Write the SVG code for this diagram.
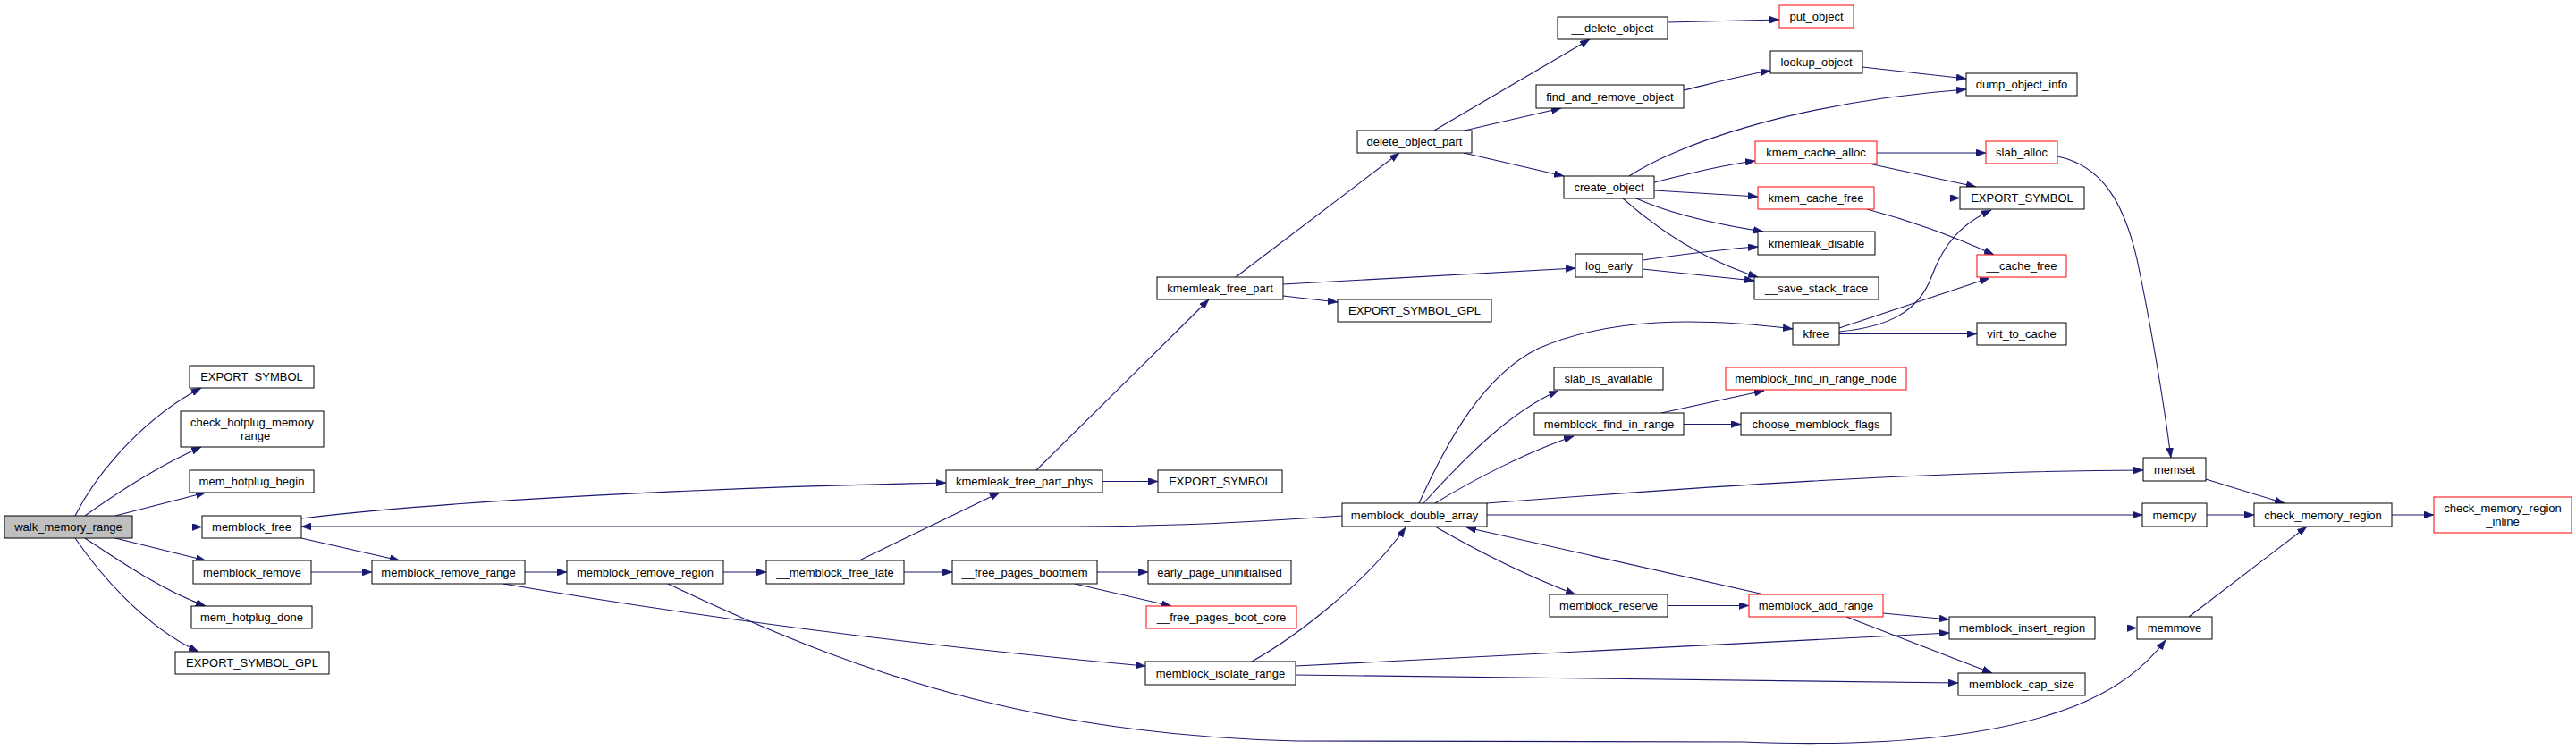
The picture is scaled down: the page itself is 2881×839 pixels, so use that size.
<svg xmlns="http://www.w3.org/2000/svg" width="2881" height="839" viewBox="0 0 2881 839">
<style>
.node rect{fill:#ffffff;stroke:#000000;stroke-width:1}
.node.red rect{stroke:#ff0000}
.node.root rect{fill:#bfbfbf}
text{font-family:"Liberation Sans",Arial,sans-serif;font-size:13px;text-anchor:middle;fill:#000000}
#edges path{fill:none;stroke:#191970;stroke-width:1.1;marker-end:url(#arr)}
</style>
<defs>
<marker id="arr" markerUnits="userSpaceOnUse" viewBox="0 0 11 8" markerWidth="11" markerHeight="8" refX="11" refY="4" orient="auto">
<path d="M0,0 L11,4 L0,8 z" fill="#191970" stroke="#191970" stroke-width="0.5"/>
</marker>
</defs>
<rect width="2881" height="839" fill="#ffffff"/>
<g id="edges">
<path d="M84,577 C110,525 165,465 225,434"/>
<path d="M95,577 C130,552 175,522 225,500"/>
<path d="M129,577 L230,551"/>
<path d="M148,589.5 L226,589.5"/>
<path d="M129,602 L230,627"/>
<path d="M95,602 C130,625 180,660 230,678"/>
<path d="M84,602 C110,640 160,700 222,729"/>
<path d="M337,580 C500,560 800,545 1058,540"/>
<path d="M337,602 L447,627"/>
<path d="M1501,577 C1420,583 1300,589 1200,589 L337,589"/>
<path d="M348,640 L416,640"/>
<path d="M587,640 L634,640"/>
<path d="M563,653 C750,685 1000,720 1281,745"/>
<path d="M809,640 L857,640"/>
<path d="M747,653 C950,750 1150,822 1450,829 L1950,830 C2100,836 2230,825 2320,790 C2370,770 2400,745 2422,716"/>
<path d="M961,627 L1118,551"/>
<path d="M1011,640 L1065,640"/>
<path d="M1227,640 L1284,640"/>
<path d="M1202,653 L1310,678"/>
<path d="M1233,538.5 L1295,538.5"/>
<path d="M1159,526 L1352,335"/>
<path d="M1382,310 L1565,171"/>
<path d="M1435,318 L1762,300"/>
<path d="M1435,331 L1496,338"/>
<path d="M1604,146 L1778,44"/>
<path d="M1638,146 L1746,121"/>
<path d="M1637,171 L1749,197"/>
<path d="M1865,25 L1990,22"/>
<path d="M1883,101 C1920,92 1950,84 1980,79"/>
<path d="M2083,75 L2199,88"/>
<path d="M1822,197 C1870,165 2000,115 2199,100"/>
<path d="M1850,204 C1890,194 1925,185 1963,180"/>
<path d="M1850,213 L1966,220"/>
<path d="M1830,222 C1870,240 1920,251 1972,259"/>
<path d="M1815,222 C1860,262 1910,292 1966,310"/>
<path d="M1837,291 C1880,285 1920,279 1966,276"/>
<path d="M1837,301 L1962,314"/>
<path d="M2099,171 L2221,171"/>
<path d="M2090,183 L2210,209"/>
<path d="M2096,221.5 L2192,221.5"/>
<path d="M2088,234 C2130,245 2180,262 2230,285"/>
<path d="M2301,175 C2350,185 2375,225 2390,290 C2405,360 2420,450 2428,512"/>
<path d="M2057,373.5 L2211,373.5"/>
<path d="M2057,367 L2225,311"/>
<path d="M2057,371 C2110,366 2145,350 2160,310 C2175,270 2195,250 2227,235"/>
<path d="M1587,563 C1620,490 1660,420 1720,390 C1800,355 1900,355 2005,368"/>
<path d="M1592,563 C1640,510 1690,460 1743,437"/>
<path d="M1605,563 C1650,535 1710,505 1760,488"/>
<path d="M1663,563 C1900,545 2150,527 2397,526"/>
<path d="M1663,576 L2396,576"/>
<path d="M1605,589 C1650,615 1710,645 1762,665"/>
<path d="M1973,665 L1640,590"/>
<path d="M1400,740 C1450,712 1530,650 1572,590"/>
<path d="M1449,745 C1700,732 1950,718 2180,708"/>
<path d="M1449,755 C1700,758 1950,762 2190,764"/>
<path d="M1858,462 L1973,437"/>
<path d="M1883,474.5 L1947,474.5"/>
<path d="M1865,677.5 L1956,677.5"/>
<path d="M2106,686 L2180,693"/>
<path d="M2065,690 L2228,753"/>
<path d="M2343,702.5 L2390,702.5"/>
<path d="M2448,690 L2580,589"/>
<path d="M2467,536 L2555,563"/>
<path d="M2468,576 L2521,576"/>
<path d="M2675,576 L2722,576"/>
</g>
<g id="n_walk" class="node root"><rect x="5" y="577" width="143" height="25"/><text x="76.5" y="594">walk_memory_range</text></g>
<g id="n_es1" class="node"><rect x="212" y="409" width="139" height="25"/><text x="281.5" y="426">EXPORT_SYMBOL</text></g>
<g id="n_chk" class="node"><rect x="202" y="460" width="160" height="40"/><text x="282" y="477">check_hotplug_memory</text><text x="282" y="492">_range</text></g>
<g id="n_mhb" class="node"><rect x="212" y="526" width="139" height="25"/><text x="281.5" y="543">mem_hotplug_begin</text></g>
<g id="n_mbf" class="node"><rect x="226" y="577" width="111" height="25"/><text x="281.5" y="594">memblock_free</text></g>
<g id="n_mbr" class="node"><rect x="216" y="627" width="132" height="26"/><text x="282" y="644.5">memblock_remove</text></g>
<g id="n_mhd" class="node"><rect x="214" y="678" width="135" height="25"/><text x="281.5" y="695">mem_hotplug_done</text></g>
<g id="n_esg1" class="node"><rect x="196" y="729" width="172" height="25"/><text x="282" y="746">EXPORT_SYMBOL_GPL</text></g>
<g id="n_mrr" class="node"><rect x="416" y="627" width="171" height="26"/><text x="501.5" y="644.5">memblock_remove_range</text></g>
<g id="n_mrg" class="node"><rect x="634" y="627" width="175" height="26"/><text x="721.5" y="644.5">memblock_remove_region</text></g>
<g id="n_mfl" class="node"><rect x="857" y="627" width="154" height="26"/><text x="934" y="644.5">__memblock_free_late</text></g>
<g id="n_fpb" class="node"><rect x="1065" y="627" width="162" height="26"/><text x="1146" y="644.5">__free_pages_bootmem</text></g>
<g id="n_epu" class="node"><rect x="1284" y="627" width="160" height="26"/><text x="1364" y="644.5">early_page_uninitialised</text></g>
<g id="n_fpbc" class="node red"><rect x="1282" y="678" width="168" height="25"/><text x="1366" y="695">__free_pages_boot_core</text></g>
<g id="n_mir" class="node"><rect x="1281" y="740" width="168" height="26"/><text x="1365" y="757.5">memblock_isolate_range</text></g>
<g id="n_kfpp" class="node"><rect x="1058" y="526" width="175" height="25"/><text x="1145.5" y="543">kmemleak_free_part_phys</text></g>
<g id="n_es2" class="node"><rect x="1295" y="526" width="139" height="25"/><text x="1364.5" y="543">EXPORT_SYMBOL</text></g>
<g id="n_kfp" class="node"><rect x="1294" y="310" width="141" height="25"/><text x="1364.5" y="327">kmemleak_free_part</text></g>
<g id="n_esg2" class="node"><rect x="1496" y="335" width="172" height="25"/><text x="1582" y="352">EXPORT_SYMBOL_GPL</text></g>
<g id="n_dop" class="node"><rect x="1518" y="146" width="128" height="25"/><text x="1582" y="163">delete_object_part</text></g>
<g id="n_ddo" class="node"><rect x="1742" y="19" width="123" height="25"/><text x="1803.5" y="36">__delete_object</text></g>
<g id="n_faro" class="node"><rect x="1718" y="95" width="165" height="26"/><text x="1800.5" y="112.5">find_and_remove_object</text></g>
<g id="n_co" class="node"><rect x="1749" y="197" width="101" height="25"/><text x="1799.5" y="214">create_object</text></g>
<g id="n_le" class="node"><rect x="1762" y="284" width="75" height="26"/><text x="1799.5" y="301.5">log_early</text></g>
<g id="n_put" class="node red"><rect x="1990" y="6" width="83" height="25"/><text x="2031.5" y="23">put_object</text></g>
<g id="n_lo" class="node"><rect x="1980" y="57" width="103" height="25"/><text x="2031.5" y="74">lookup_object</text></g>
<g id="n_doi" class="node"><rect x="2199" y="82" width="124" height="25"/><text x="2261" y="99">dump_object_info</text></g>
<g id="n_kca" class="node red"><rect x="1963" y="158" width="136" height="25"/><text x="2031" y="175">kmem_cache_alloc</text></g>
<g id="n_sa" class="node red"><rect x="2221" y="158" width="80" height="25"/><text x="2261" y="175">slab_alloc</text></g>
<g id="n_kcf" class="node red"><rect x="1966" y="209" width="130" height="25"/><text x="2031" y="226">kmem_cache_free</text></g>
<g id="n_es3" class="node"><rect x="2192" y="209" width="139" height="25"/><text x="2261.5" y="226">EXPORT_SYMBOL</text></g>
<g id="n_kd" class="node"><rect x="1966" y="259" width="131" height="26"/><text x="2031.5" y="276.5">kmemleak_disable</text></g>
<g id="n_cf" class="node red"><rect x="2211" y="285" width="100" height="25"/><text x="2261" y="302">__cache_free</text></g>
<g id="n_sst" class="node"><rect x="1962" y="310" width="139" height="25"/><text x="2031.5" y="327">__save_stack_trace</text></g>
<g id="n_kfree" class="node"><rect x="2005" y="361" width="52" height="25"/><text x="2031" y="378">kfree</text></g>
<g id="n_vtc" class="node"><rect x="2211" y="361" width="100" height="25"/><text x="2261" y="378">virt_to_cache</text></g>
<g id="n_mda" class="node"><rect x="1501" y="563" width="162" height="26"/><text x="1582" y="580.5">memblock_double_array</text></g>
<g id="n_sia" class="node"><rect x="1738" y="411" width="122" height="25"/><text x="1799" y="428">slab_is_available</text></g>
<g id="n_mfir" class="node"><rect x="1716" y="462" width="167" height="25"/><text x="1799.5" y="479">memblock_find_in_range</text></g>
<g id="n_mfirn" class="node red"><rect x="1930" y="411" width="202" height="25"/><text x="2031" y="428">memblock_find_in_range_node</text></g>
<g id="n_cmf" class="node"><rect x="1947" y="462" width="168" height="25"/><text x="2031" y="479">choose_memblock_flags</text></g>
<g id="n_mres" class="node"><rect x="1733" y="665" width="132" height="25"/><text x="1799" y="682">memblock_reserve</text></g>
<g id="n_mar" class="node red"><rect x="1956" y="665" width="150" height="25"/><text x="2031" y="682">memblock_add_range</text></g>
<g id="n_mins" class="node"><rect x="2180" y="690" width="163" height="25"/><text x="2261.5" y="707">memblock_insert_region</text></g>
<g id="n_mcs" class="node"><rect x="2190" y="753" width="142" height="25"/><text x="2261" y="770">memblock_cap_size</text></g>
<g id="n_mset" class="node"><rect x="2397" y="512" width="70" height="26"/><text x="2432" y="529.5">memset</text></g>
<g id="n_mcpy" class="node"><rect x="2396" y="563" width="72" height="26"/><text x="2432" y="580.5">memcpy</text></g>
<g id="n_mmov" class="node"><rect x="2390" y="690" width="84" height="25"/><text x="2432" y="707">memmove</text></g>
<g id="n_cmr" class="node"><rect x="2521" y="563" width="154" height="26"/><text x="2598" y="580.5">check_memory_region</text></g>
<g id="n_cmri" class="node red"><rect x="2722" y="556" width="154" height="40"/><text x="2799" y="573">check_memory_region</text><text x="2799" y="588">_inline</text></g>
</svg>
